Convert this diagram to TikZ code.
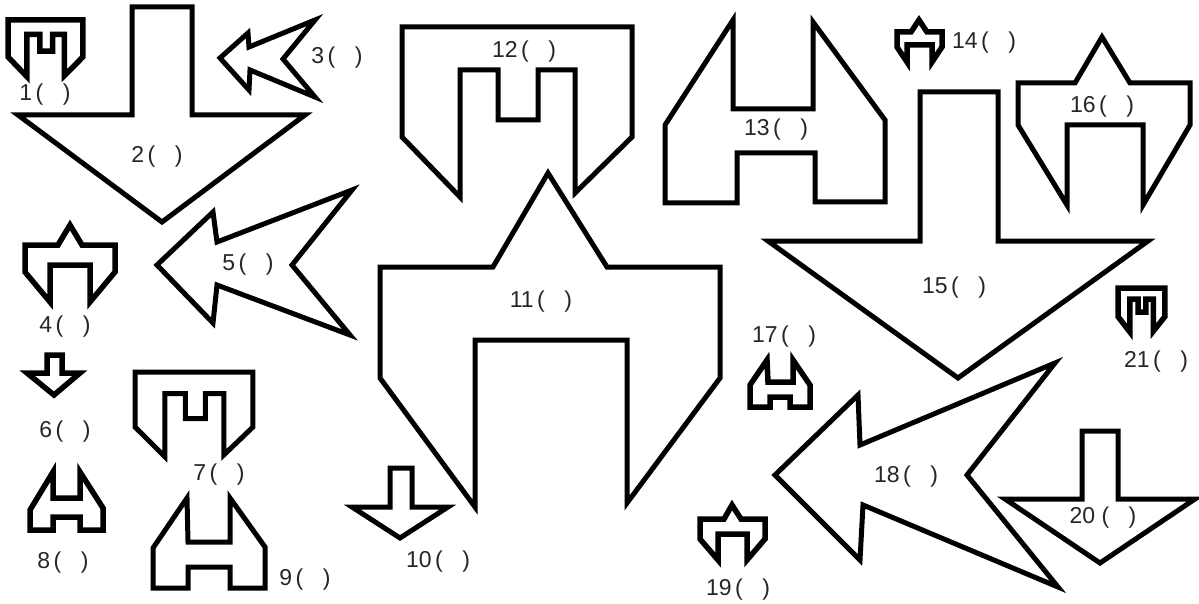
\documentclass[tikz,border=0pt]{standalone}
\usepackage{fontspec}
\setmainfont{Liberation Sans}
\begin{document}
\begin{tikzpicture}[x=1pt,y=-1pt,
  shp/.style={draw=black, line width=5pt, line join=miter, miter limit=6},
  small/.style={line width=5.5pt},
  lbl/.style={font=\fontsize{23}{26}\selectfont, inner sep=0pt, text=black!85}]
\useasboundingbox[fill=white] (0,0) rectangle (1199,604);
% type A (castle) shapes
\draw[shp] (402,27) -- (632,27) -- (632,137) -- (575,193) -- (575,70) -- (538,70) -- (538,120) -- (498,120) -- (498,70) -- (460,70) -- (460,197) -- (402,137) -- cycle;
\begin{scope}[shift={(8,20)},xscale=0.326,yscale=0.335]
\draw[shp,small] (0,0) -- (230,0) -- (230,110) -- (173,166) -- (173,43) -- (137,43) -- (137,93) -- (98,93) -- (98,43) -- (58,43) -- (58,169) -- (0,110) -- cycle;
\end{scope}
\begin{scope}[shift={(135,372)},xscale=0.513,yscale=0.5]
\draw[shp] (0,0) -- (230,0) -- (230,110) -- (173,166) -- (173,43) -- (137,43) -- (137,93) -- (98,93) -- (98,43) -- (58,43) -- (58,169) -- (0,110) -- cycle;
\end{scope}
\begin{scope}[shift={(1118,288)},xscale=0.204,yscale=0.26]
\draw[shp,small] (0,0) -- (230,0) -- (230,110) -- (173,166) -- (173,43) -- (137,43) -- (137,93) -- (98,93) -- (98,43) -- (58,43) -- (58,169) -- (0,110) -- cycle;
\end{scope}
% type B (down arrows)
\draw[shp] (132,7) -- (192,7) -- (192,115) -- (305,115) -- (162,222) -- (18,115) -- (132,115) -- cycle;
\draw[shp] (920,92) -- (998,92) -- (998,241) -- (1148,241) -- (958,378) -- (768,241) -- (920,241) -- cycle;
\draw[shp] (1082,431) -- (1118,431) -- (1118,499) -- (1195,499) -- (1100,563) -- (1005,499) -- (1082,499) -- cycle;
\draw[shp] (390,468) -- (412,468) -- (412,507) -- (448,507) -- (400,538) -- (352,507) -- (390,507) -- cycle;
\draw[shp,small] (47,355) -- (62,355) -- (62,373) -- (80,373) -- (54,395) -- (27,373) -- (47,373) -- cycle;
% type C (left arrows)
\draw[shp] (220,58) -- (248,33) -- (249,47) -- (315,20) -- (283,59) -- (315,97) -- (250,70) -- (249,90) -- cycle;
\draw[shp] (157,265) -- (213,212) -- (217,242) -- (352,190) -- (292,265) -- (350,335) -- (217,285) -- (213,323) -- cycle;
\draw[shp] (775,475) -- (858,395) -- (860,445) -- (1055,363) -- (967,475) -- (1058,587) -- (863,505) -- (860,560) -- cycle;
% type D
\draw[shp] (733,20) -- (665,125) -- (665,203) -- (737,203) -- (737,153) -- (815,153) -- (815,202) -- (885,202) -- (885,120) -- (813,22) -- (813,109) -- (733,109) -- cycle;
\draw[shp] (187,498) -- (153,548) -- (153,588) -- (188,588) -- (188,567) -- (230,567) -- (230,588) -- (265,588) -- (265,547) -- (230,498) -- (230,542) -- (188,542) -- cycle;
\draw[shp,small] (53,472) -- (30,510) -- (30,530) -- (53,530) -- (53,517) -- (80,517) -- (80,530) -- (103,530) -- (103,508) -- (80,472) -- (80,498) -- (53,498) -- cycle;
\draw[shp,small] (767,360) -- (750,385) -- (750,407) -- (770,407) -- (770,397) -- (790,397) -- (790,407) -- (810,407) -- (810,385) -- (793,360) -- (793,382) -- (768,382) -- cycle;
% type E (crown with spike)
\draw[shp] (548,173) -- (607,267) -- (720,267) -- (720,378) -- (627,503) -- (627,340) -- (475,340) -- (475,507) -- (380,378) -- (380,267) -- (493,267) -- cycle;
\draw[shp] (1102,37) -- (1130,83) -- (1190,83) -- (1190,125) -- (1143,205) -- (1143,125) -- (1067,125) -- (1067,205) -- (1018,125) -- (1018,83) -- (1075,83) -- cycle;
\draw[shp,small] (70,225) -- (82,245) -- (115,245) -- (115,272) -- (90,302) -- (90,265) -- (50,265) -- (50,302) -- (25,272) -- (25,245) -- (58,245) -- cycle;
\draw[shp,small] (732,505) -- (741,519) -- (765,519) -- (765,539) -- (747,560) -- (747,534) -- (718,534) -- (718,560) -- (700,539) -- (700,519) -- (724,519) -- cycle;
\draw[shp,small] (919,20) -- (927,32) -- (942,32) -- (942,47) -- (932,62) -- (932,45) -- (907,45) -- (907,62) -- (897,47) -- (897,32) -- (911,32) -- cycle;
% labels
\node[lbl] (l1) at (45,95) {1\hspace{0.15em}(\hspace{0.85em})};
\node[lbl] (l2) at (157,157) {2\hspace{0.15em}(\hspace{0.85em})};
\node[lbl] (l3) at (337,58) {3\hspace{0.15em}(\hspace{0.85em})};
\node[lbl] (l4) at (65,327) {4\hspace{0.15em}(\hspace{0.85em})};
\node[lbl] (l5) at (248,265) {5\hspace{0.15em}(\hspace{0.85em})};
\node[lbl] (l6) at (65,432) {6\hspace{0.15em}(\hspace{0.85em})};
\node[lbl] (l7) at (219,475) {7\hspace{0.15em}(\hspace{0.85em})};
\node[lbl] (l8) at (63,563) {8\hspace{0.15em}(\hspace{0.85em})};
\node[lbl] (l9) at (305,580) {9\hspace{0.15em}(\hspace{0.85em})};
\node[lbl] (l10) at (438,562) {10\hspace{0.15em}(\hspace{0.85em})};
\node[lbl] (l11) at (541,302) {11\hspace{0.15em}(\hspace{0.85em})};
\node[lbl] (l12) at (524,52) {12\hspace{0.15em}(\hspace{0.85em})};
\node[lbl] (l13) at (776,130) {13\hspace{0.15em}(\hspace{0.85em})};
\node[lbl] (l14) at (984,43) {14\hspace{0.15em}(\hspace{0.85em})};
\node[lbl] (l15) at (954,288) {15\hspace{0.15em}(\hspace{0.85em})};
\node[lbl] (l16) at (1102,107) {16\hspace{0.15em}(\hspace{0.85em})};
\node[lbl] (l17) at (784,337) {17\hspace{0.15em}(\hspace{0.85em})};
\node[lbl] (l18) at (906,477) {18\hspace{0.15em}(\hspace{0.85em})};
\node[lbl] (l19) at (738,590) {19\hspace{0.15em}(\hspace{0.85em})};
\node[lbl] (l20) at (1103,518) {20 (\hspace{0.85em})};
\node[lbl] (l21) at (1156,362) {21\hspace{0.15em}(\hspace{0.85em})};
\end{tikzpicture}
\end{document}
